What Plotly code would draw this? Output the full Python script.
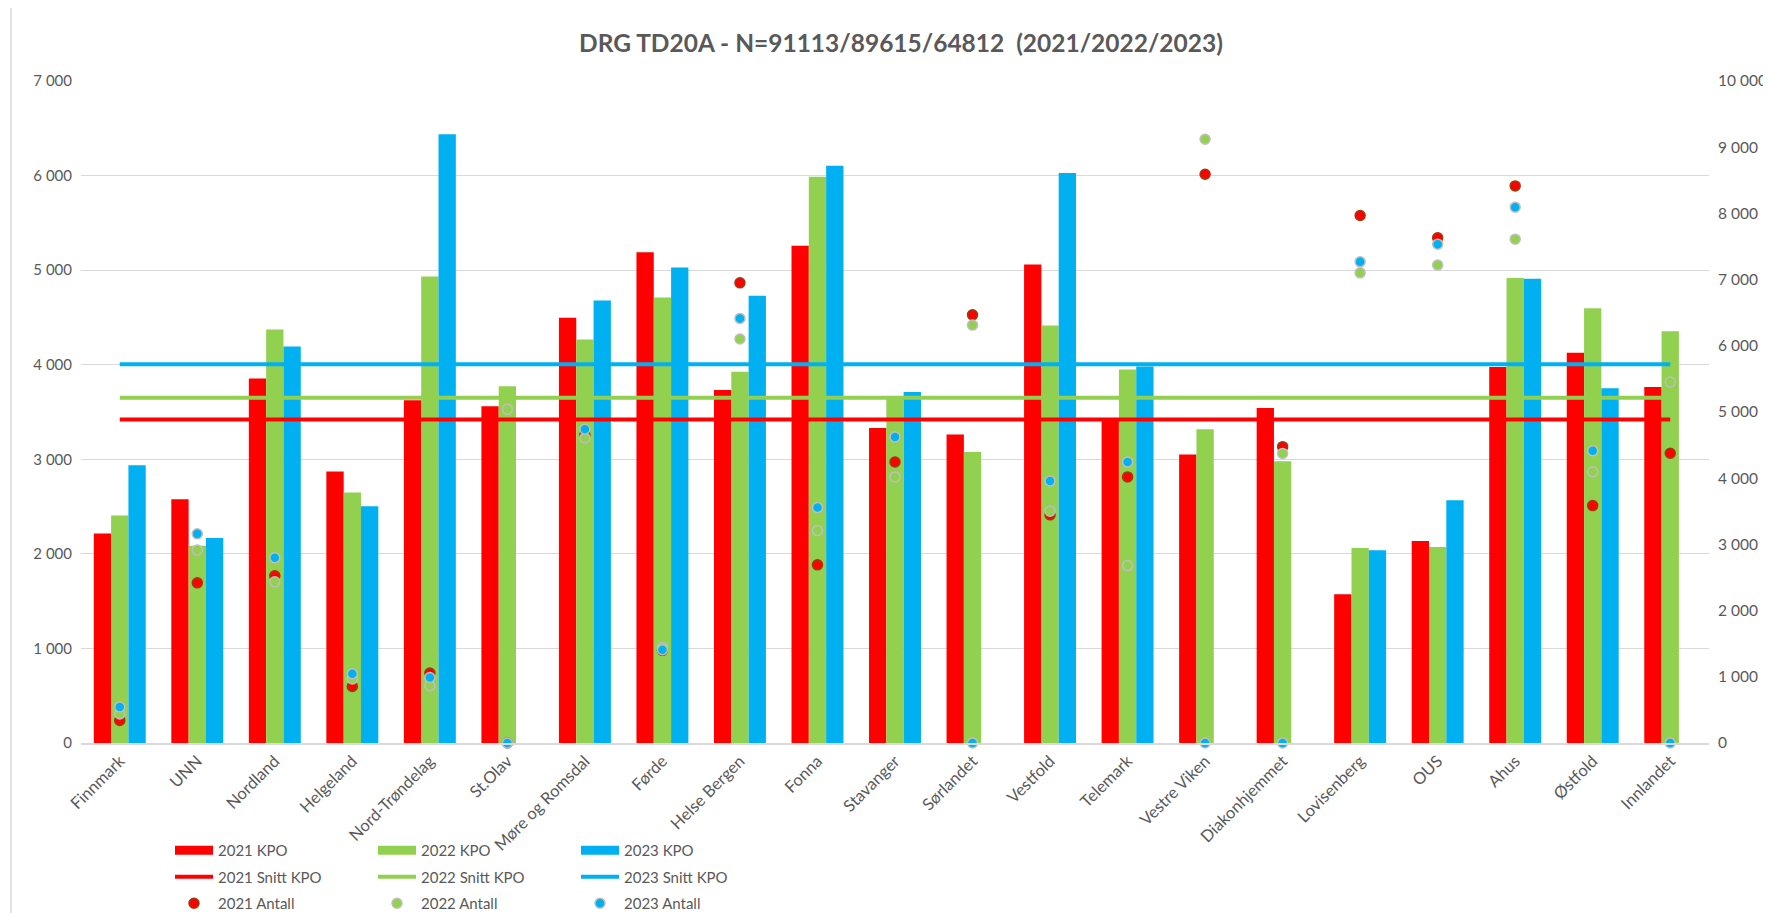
import plotly.graph_objects as go

categories = ["Finnmark", "UNN", "Nordland", "Helgeland", "Nord-Trøndelag", "St.Olav",
              "Møre og Romsdal", "Førde", "Helse Bergen", "Fonna", "Stavanger", "Sørlandet",
              "Vestfold", "Telemark", "Vestre Viken", "Diakonhjemmet", "Lovisenberg", "OUS",
              "Ahus", "Østfold", "Innlandet"]

kpo_2021 = [2216, 2578, 3855, 2871, 3623, 3560, 4496, 5188, 3732, 5259, 3331, 3261,
            5059, 3433, 3050, 3542, 1573, 2135, 3975, 4127, 3764]
kpo_2022 = [2406, 2085, 4373, 2649, 4932, 3771, 4267, 4710, 3926, 5987, 3658, 3078,
            4415, 3950, 3317, 2979, 2061, 2072, 4918, 4597, 4355]
kpo_2023 = [2937, 2167, 4193, 2504, 6438, None, 4679, 5027, 4728, 6103, 3711, None,
            6026, 3982, None, None, 2037, 2568, 4908, 3750, None]

snitt_2021 = 3420
snitt_2022 = 3650
snitt_2023 = 4005

antall_2021 = [341, 2419, 2525, 854, 1056, 0, 4653, 1400, 6951, 2691, 4245, 6468,
               3446, 4019, 8592, 4476, 7968, 7631, 8415, 3586, 4377]
antall_2022 = [438, 2917, 2434, 966, 865, 5041, 4608, 1443, 6102, 3209, 4019, 6313,
               3501, 2680, 9120, 4374, 7102, 7219, 7611, 4099, 5453]
antall_2023 = [543, 3159, 2797, 1046, 990, 0, 4739, 1408, 6414, 3556, 4623, 0,
               3959, 4245, 0, 0, 7268, 7535, 8094, 4416, 0]

RED = "#FF0000"
GREEN = "#92D050"
BLUE = "#00B0F0"
TXT = "#595959"
GRID = "#D9D9D9"
FONT = "Lato"

# the page body adds an 8px offset; the figure is sized to fill the rest of the window
OFF = 8
W, H = 1771 - OFF, 913 - OFF
ML = 81 - OFF
MT = 81 - OFF
MR = W - (1709 - OFF)
MB = H - (743 - OFF)

fig = go.Figure()

years = [("2021", RED, kpo_2021, snitt_2021, antall_2021, "#9E3B0E", "legend"),
         ("2022", GREEN, kpo_2022, snitt_2022, antall_2022, "#BFBFBF", "legend2"),
         ("2023", BLUE, kpo_2023, snitt_2023, antall_2023, "#BFBFBF", "legend3")]

# legend-only entries for bars (wide rectangle look)
for yr, col, kpo, sn, ant, mline, lg in years:
    fig.add_trace(go.Scatter(x=[None], y=[None], mode="lines", name=f"{yr} KPO",
                             line=dict(color=col, width=9), legend=lg,
                             legendgroup=f"{yr}kpo", hoverinfo="skip"))

for yr, col, kpo, sn, ant, mline, lg in years:
    fig.add_trace(go.Bar(x=categories, y=kpo, name=f"{yr} KPO",
                         marker=dict(color=col, line=dict(width=0)),
                         showlegend=False, yaxis="y"))

for yr, col, kpo, sn, ant, mline, lg in years:
    fig.add_trace(go.Scatter(x=[categories[0], categories[-1]], y=[sn, sn], mode="lines",
                             name=f"{yr} Snitt KPO", line=dict(color=col, width=4),
                             legend=lg, legendgroup=f"{yr}snitt", yaxis="y"))

for yr, col, kpo, sn, ant, mline, lg in years:
    fig.add_trace(go.Scatter(x=categories, y=ant, mode="markers", name=f"{yr} Antall",
                             marker=dict(color=col, size=10, line=dict(color=mline, width=1.5)),
                             legend=lg, legendgroup=f"{yr}antall", yaxis="y2", cliponaxis=False))

plot_w = W - ML - MR
plot_h = H - MT - MB


def px2paper_x(px):
    return (px - ML) / plot_w


def px2paper_y(py):
    return (H - MB - py) / plot_h


legend_common = dict(xref="container", yref="container", xanchor="left", yanchor="top",
                     orientation="v", traceorder="grouped", tracegroupgap=4, itemwidth=38,
                     bgcolor="rgba(0,0,0,0)", font=dict(family=FONT, size=15, color=TXT))
leg_y = 1 - 826 / H

fig.update_layout(
    width=W, height=H,
    margin=dict(l=ML, r=MR, t=MT, b=MB, autoexpand=False),
    paper_bgcolor="white", plot_bgcolor="white",
    separators=", ",
    barmode="group", bargap=0.33, bargroupgap=0,
    title=dict(text="DRG TD20A - N=91113/89615/64812 \u00a0(2021/2022/2023)",
               x=(901 - OFF) / W, xref="container", xanchor="center",
               y=1 - (43 - OFF) / H, yref="container", yanchor="middle",
               font=dict(family=FONT, size=24.5, color=TXT, weight="bold")),
    xaxis=dict(type="category", range=[-0.5, len(categories) - 0.5], tickangle=-45,
               showgrid=False, showline=True, linecolor=GRID, linewidth=2, ticks="",
               tickfont=dict(family=FONT, size=16.5, color=TXT), automargin=False),
    yaxis=dict(range=[0, 7000], dtick=1000, tickformat=",d", showgrid=True, gridcolor=GRID,
               gridwidth=1, zeroline=False, ticks="", ticklabelstandoff=8,
               tickfont=dict(family=FONT, size=15, color=TXT), automargin=False),
    yaxis2=dict(range=[0, 10000], dtick=1000, tickformat=",d", overlaying="y", side="right",
                showgrid=False, zeroline=False, ticks="", ticklabelstandoff=8,
                tickfont=dict(family=FONT, size=15.5, color=TXT), automargin=False),
    legend=dict(x=162 / W, y=leg_y, **legend_common),
    legend2=dict(x=365 / W, y=leg_y, **legend_common),
    legend3=dict(x=568 / W, y=leg_y, **legend_common),
    shapes=[dict(type="rect", xref="paper", yref="paper",
                 x0=px2paper_x(11 - OFF), x1=px2paper_x(W + 20),
                 y0=px2paper_y(H + 20), y1=px2paper_y(7 - OFF),
                 line=dict(color=GRID, width=1.5), fillcolor="rgba(0,0,0,0)", layer="below")],
)

fig.write_html("out.html")
